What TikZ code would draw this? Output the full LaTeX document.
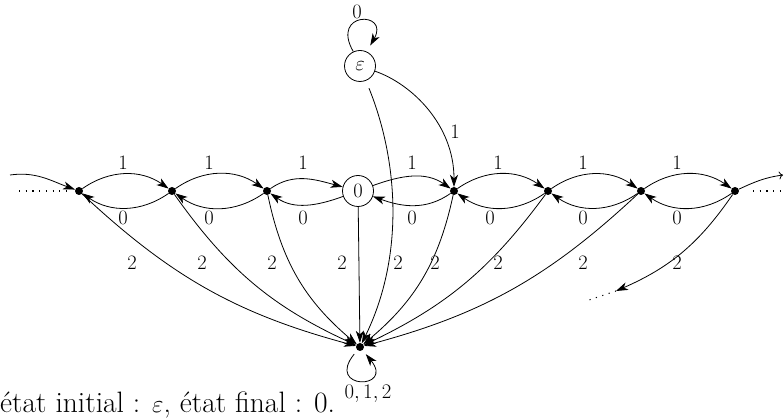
\documentclass[tikz,border=0pt]{standalone}
\usetikzlibrary{arrows.meta}
\newcommand\lblfont{\fontsize{20.5}{24}\selectfont}
\newcommand\capfont{\fontsize{29.5}{33}\selectfont}
\begin{document}
\begin{tikzpicture}[x=1pt,y=1pt,
  dot/.style={circle,fill,inner sep=0pt,minimum size=8pt},
  st/.style={circle,draw,inner sep=0pt,minimum size=31pt,font=\lblfont,line width=0.8pt},
  lab/.style={font=\lblfont,inner sep=0pt},
  tr/.style={-{Stealth[length=12pt,width=8pt,inset=3.5pt]},line width=0.8pt},
  dots/.style={line width=1.1pt,dash pattern=on 1.1pt off 5.6pt},
]
\useasboundingbox (0,0) rectangle (784,420);
% states
\node[st] (eps) at (360,354) {$\varepsilon$};
\node[st] (z) at (358,229) {0};
\node[dot] (d1) at (79,229) {};
\node[dot] (d2) at (172,229) {};
\node[dot] (d3) at (267,229) {};
\node[dot] (d4) at (454,229) {};
\node[dot] (d5) at (548,229) {};
\node[dot] (d6) at (641,229) {};
\node[dot] (d7) at (735,229) {};
\node[dot] (s) at (360,73) {};
\coordinate (lin) at (10,245);
\coordinate (rout) at (783,245);
\coordinate (ldA) at (19,229);
\coordinate (ldB) at (66,229);
\coordinate (rdA) at (753,229);
\coordinate (rdB) at (784,229);
\coordinate (dend) at (616,129);
\coordinate (dotend) at (586,119);

% incoming / outgoing
\draw[tr] (lin) to[out=8,in=160] (d1);
\draw[dots] (ldA) -- (ldB);
\draw[line width=0.8pt,-{To[length=4pt,width=8pt]}] (d7) to[out=25,in=188] (rout);
\draw[dots] (rdA) -- (rdB);

% top arcs (1)
\draw[tr] (d1) to[bend left=35] (d2);
\draw[tr] (d2) to[bend left=35] (d3);
\draw[tr] (d3) to[out=35,in=165] (z);
\draw[tr] (z) to[out=20,in=145] (d4);
\draw[tr] (d4) to[bend left=35] (d5);
\draw[tr] (d5) to[bend left=35] (d6);
\draw[tr] (d6) to[bend left=35] (d7);
% bottom arcs (0)
\draw[tr] (d2) to[bend left=35] (d1);
\draw[tr] (d3) to[bend left=35] (d2);
\draw[tr] (z) to[out=200,in=-35] (d3);
\draw[tr] (d4) to[out=215,in=-20] (z);
\draw[tr] (d5) to[bend left=35] (d4);
\draw[tr] (d6) to[bend left=35] (d5);
\draw[tr] (d7) to[bend left=35] (d6);

% to the sink (2)
\draw[tr] (d1) to[bend right=14] (s);
\draw[tr] (d2) to[bend right=15] (s);
\draw[tr] (d3) to[bend right=19] (s);
\draw[tr] (z) -- (s);
\draw[tr] (d4) to[bend left=19] (s);
\draw[tr] (d5) to[bend left=14] (s);
\draw[tr] (d6) to[bend left=14] (s);
\draw[tr] (d7) to[bend left=16] (dend);
\draw[dots] (dend) -- (dotend);

% from epsilon
\draw[tr,shorten <=8pt] (eps) .. controls (398,260) and (405,165) .. (s);
\draw[tr] (eps) .. controls (412,336) and (454,295) .. (d4);
\draw[tr,shorten >=7pt] (eps.115) .. controls (330,409) and (390,409) .. (eps.65);
\draw[tr,shorten <=5pt,shorten >=5pt] (s) .. controls (325,30) and (395,30) .. (s);

% labels
\foreach \x/\n in {123/a,209/b,303/c,412/d,498/e,583/f,677/g}{
  \node[lab] (one\n) at (\x,257) {1};
}
\foreach \x/\n in {123/a,209/b,303/c,412/d,490/e,583/f,677/g}{
  \node[lab] (zero\n) at (\x,202) {0};
}
\foreach \x/\n in {132/a,202/b,272/c,342/d,398/e,435/f,498/g,583/h,677/i}{
  \node[lab] (two\n) at (\x,157) {2};
}
\node[lab] (epsone) at (455,288) {1};
\node[lab] (epszero) at (357,408) {0};
\node[lab] (sinklab) at (368,26) {$0,1,2$};
\node[anchor=base west,inner sep=0pt,font=\capfont] (cap) at (0,7) {état initial : $\varepsilon$, état final : 0.};
\end{tikzpicture}
\end{document}
